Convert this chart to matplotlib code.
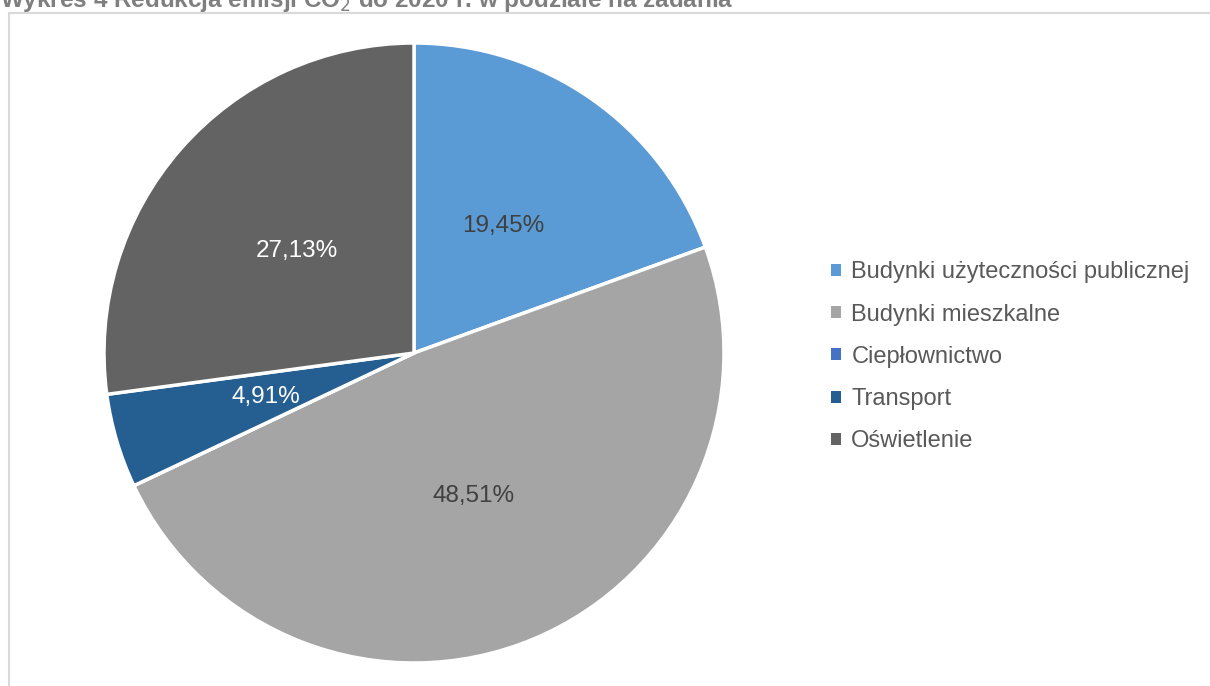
import matplotlib.pyplot as plt
from matplotlib.patches import Rectangle

plt.rcParams['font.family'] = ['Liberation Sans', 'DejaVu Sans']

categories = ['Budynki użyteczności publicznej', 'Budynki mieszkalne',
              'Ciepłownictwo', 'Transport', 'Oświetlenie']
shares = [19.45, 48.51, 0.0, 4.91, 27.13]
colors = ['#5b9bd5', '#a5a5a5', '#4472c4', '#255e91', '#636363']
label_colors = ['#404040', '#404040', '#ffffff', '#ffffff', '#ffffff']

W, H = 1210, 686
fig = plt.figure(figsize=(W / 100, H / 100), dpi=100)

# chart frame
fig.patches.append(Rectangle((9 / W, -0.05), 1.2, 1 - 13 / H + 0.05,
                             transform=fig.transFigure, fill=False,
                             edgecolor='#d9d9d9', linewidth=1.5))

# title (top cut off as in the original screenshot)
fig.text(0, 1 - 7 / H, 'Wykres 4 Redukcja emisji CO$_2$ do 2020 r. w podziale na zadania',
         fontsize=17.5, fontweight='bold', color='#7f7f7f', ha='left', va='baseline')

cx, cy, r = 414, 353, 310
ax = fig.add_axes([(cx - r) / W, (H - cy - r) / H, 2 * r / W, 2 * r / H])

def pct(v):
    return '' if v < 0.01 else ('%.2f%%' % v).replace('.', ',')

wedges, texts, autotexts = ax.pie(shares, colors=colors, startangle=90, counterclock=False,
                                  autopct=pct, pctdistance=0.5, radius=1,
                                  wedgeprops=dict(edgecolor='white', linewidth=2.5),
                                  textprops=dict(fontsize=17.5))
for t, c in zip(autotexts, label_colors):
    t.set_color(c)
ax.set_xlim(-1, 1)
ax.set_ylim(-1, 1)
ax.set_aspect('equal')

leg = fig.legend(wedges, categories, loc='upper left',
                 bbox_to_anchor=(810 / W, 1 - 240 / H), frameon=False,
                 fontsize=17, handlelength=0.4, handleheight=0.4, handletextpad=0.45,
                 labelspacing=0.86, labelcolor='#595959')
for h in leg.legend_handles:
    h.set_edgecolor('none')

plt.savefig('out.png', dpi=100)
